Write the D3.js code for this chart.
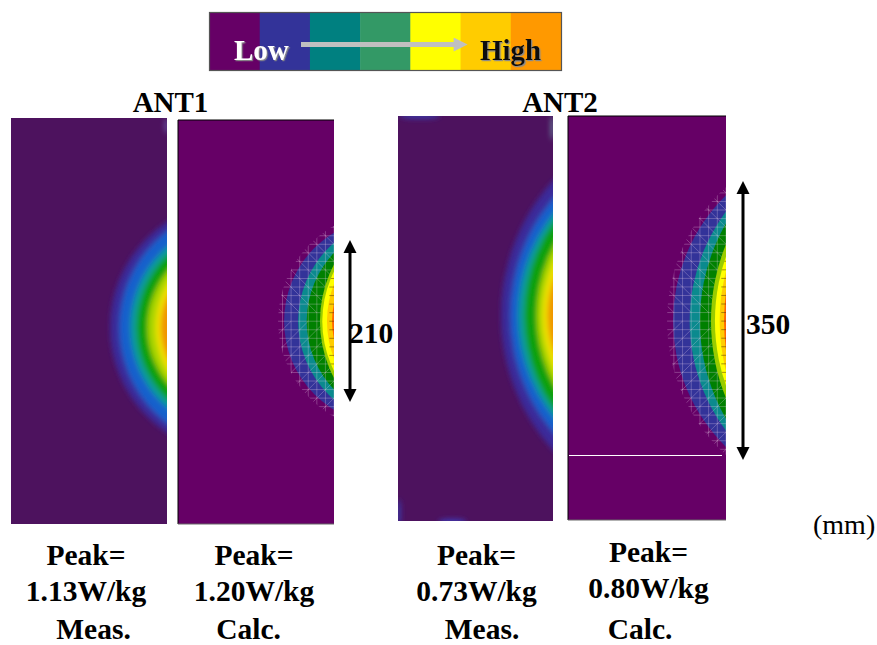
<!DOCTYPE html>
<html>
<head>
<meta charset="utf-8">
<style>
  html, body { margin: 0; background: #fff; }
  svg { display: block; }
  text { font-family: "Liberation Serif", serif; font-weight: bold; fill: #000; }
</style>
</head>
<body>
<div class="container"></div>
<script src="https://cdnjs.cloudflare.com/ajax/libs/d3/7.8.5/d3.min.js"></script>
<script>
// legend
const LEGEND_COLORS = ['#660066', '#333399', '#008080', '#339966', '#ffff00', '#ffcc00', '#ff9900']

// contour levels: depth from the right edge and half chord along that edge, in mm
const MEAS_COLORS = ['#3a2a9a', '#1460cc', '#0a9a9a', '#0ca00c', '#a8d400', '#eee000', '#f09400']
const CALC_COLORS = ['#333399', '#0b8a8e', '#008000', '#99cc00', '#ffff00', '#ffcc00', '#ff6600']

const ant1MeasDepth = [73, 61, 47, 39, 25, 15, 8]
const ant1MeasHalf = [135, 123, 103, 92, 71, 56, 38]
const ant1CalcDepth = [64, 46, 35, 18, 15, 9, 2.5]
const ant1CalcHalf = [114, 101, 88, 73, 64, 48, 23]
const ant2MeasDepth = [67, 55, 45, 37, 21, 14, 7]
const ant2MeasHalf = [173, 150, 130, 119, 87, 68, 43]
const ant2CalcDepth = [67, 46, 33, 19, 14, 8, 2.5]
const ant2CalcHalf = [162, 141, 126, 99, 83, 64, 38]

// faint blotches on the measured maps: x, y in mm, x from the right edge
const ant1Blotches = [
  { x: 1, y: -250, rx: 2, ry: 10, color: '#6a5aa8' },
]
const ant2Blotches = [
  { x: 1, y: -245, rx: 1.5, ry: 16, color: '#70b0b0' },
  { x: 172, y: -260, rx: 26, ry: 4, color: '#3c35a0' },
  { x: 199, y: 250, rx: 3, ry: 18, color: '#3c35a0' },
  { x: 130, y: 261, rx: 18, ry: 4, color: '#4038b0' },
]

const panelNames = ['ANT1', 'ANT2']
const peakLabels = ['Peak=', 'Peak=', 'Peak=', 'Peak=']
const peakValues = ['1.13W/kg', '1.20W/kg', '0.73W/kg', '0.80W/kg']
const methodLabels = ['Meas.', 'Calc.', 'Meas.', 'Calc.']

const PANEL_MM = { WIDTH: 200, HEIGHT: 520 }

const SVG_WIDTH = 877
const SVG_HEIGHT = 645

const panels = [
  { kind: 'meas', left: 11, right: 167, top: 118, bottom: 524, shift: 8, depth: ant1MeasDepth, half: ant1MeasHalf, blotches: ant1Blotches },
  { kind: 'calc', left: 178, right: 334, top: 120, bottom: 524, shift: -1, depth: ant1CalcDepth, half: ant1CalcHalf },
  { kind: 'meas', left: 398, right: 553, top: 116, bottom: 521, shift: -4, depth: ant2MeasDepth, half: ant2MeasHalf, blotches: ant2Blotches },
  { kind: 'calc', left: 568, right: 726, top: 116, bottom: 520, shift: 4, depth: ant2CalcDepth, half: ant2CalcHalf, seam: 176.5 },
]

const svg = d3.select('.container')
  .append('svg')
  .attr('width', SVG_WIDTH)
  .attr('height', SVG_HEIGHT)

const defs = svg.append('defs')

defs.append('filter')
    .attr('id', 'soft')
    .attr('filterUnits', 'userSpaceOnUse')
    .attr('x', 0).attr('y', 0).attr('width', SVG_WIDTH).attr('height', SVG_HEIGHT)
  .append('feGaussianBlur')
    .attr('stdDeviation', 2.8)

defs.append('filter')
    .attr('id', 'soft-small')
    .attr('filterUnits', 'userSpaceOnUse')
    .attr('x', 0).attr('y', 0).attr('width', SVG_WIDTH).attr('height', SVG_HEIGHT)
  .append('feGaussianBlur')
    .attr('stdDeviation', 2.5)

defs.append('filter')
    .attr('id', 'shade')
    .attr('x', '-10%').attr('y', '-10%').attr('width', '120%').attr('height', '120%')
  .append('feDropShadow')
    .attr('dx', 1.2).attr('dy', 1.2).attr('stdDeviation', 0.4)
    .attr('flood-color', '#8a8a8a')

defs.append('marker')
    .attr('id', 'grey-head')
    .attr('viewBox', '0 0 10 10')
    .attr('refX', 1).attr('refY', 5)
    .attr('markerUnits', 'userSpaceOnUse')
    .attr('markerWidth', 15).attr('markerHeight', 14)
    .attr('orient', 'auto')
  .append('path')
    .attr('d', 'M0,0L10,5L0,10Z')
    .attr('fill', '#c0c0c0')

function drawLegend() {
  const x = d3.scaleBand()
    .domain(d3.range(LEGEND_COLORS.length))
    .range([209.5, 561])
  const g = svg.append('g').attr('id', 'legend')

  g.selectAll('rect')
    .data(LEGEND_COLORS)
    .enter()
    .append('rect')
      .attr('x', (d, i) => x(i))
      .attr('y', 13)
      .attr('width', x.bandwidth() + 0.5)
      .attr('height', 57)
      .attr('fill', d => d)

  g.append('rect')
    .attr('x', 209.5).attr('y', 12.5)
    .attr('width', 352).attr('height', 58)
    .attr('fill', 'none')
    .attr('stroke', '#555')
    .attr('stroke-width', 1.2)

  g.append('line')
    .attr('x1', 301).attr('x2', 455)
    .attr('y1', 44.5).attr('y2', 44.5)
    .attr('stroke', '#c0c0c0')
    .attr('stroke-width', 5)
    .attr('marker-end', 'url(#grey-head)')

  g.append('text')
    .text('Low')
    .attr('x', 234).attr('y', 60)
    .attr('font-size', 29)
    .attr('filter', 'url(#shade)')
    .style('fill', '#fff')

  g.append('text')
    .text('High')
    .attr('x', 480).attr('y', 60)
    .attr('font-size', 29)
    .attr('filter', 'url(#shade)')
    .style('fill', '#111')
}

// the contours are lenses: circles through the depth point and both chord ends
function contourCircle(depth, half) {
  const r = (depth * depth + half * half) / (2 * depth)
  return { r, beyond: r - depth }
}

function drawPanel(panel, index) {
  const scaleX = d3.scaleLinear().domain([0, PANEL_MM.WIDTH]).range([panel.right, panel.left])
  const scaleY = d3.scaleLinear().domain([-PANEL_MM.HEIGHT / 2, PANEL_MM.HEIGHT / 2]).range([panel.top, panel.bottom])
  const rx = mm => scaleX(0) - scaleX(mm)
  const ry = mm => scaleY(mm) - scaleY(0)

  const clipId = `panel-clip-${index}`
  defs.append('clipPath')
      .attr('id', clipId)
    .append('rect')
      .attr('x', panel.left).attr('y', panel.top)
      .attr('width', panel.right - panel.left)
      .attr('height', panel.bottom - panel.top)

  const isMeas = panel.kind === 'meas'
  const g = svg.append('g').attr('clip-path', `url(#${clipId})`)

  g.append('rect')
    .attr('x', panel.left).attr('y', panel.top)
    .attr('width', panel.right - panel.left)
    .attr('height', panel.bottom - panel.top)
    .attr('fill', isMeas ? '#4d125e' : '#660066')

  const levels = isMeas ? MEAS_COLORS : CALC_COLORS
  const circles = panel.depth.map((d, i) => ({
    ...contourCircle(d, panel.half[i]),
    color: levels[i],
    level: i,
  }))
  const addContours = (parent, rows) => parent.selectAll('ellipse')
    .data(rows)
    .enter()
    .append('ellipse')
      .attr('cx', d => scaleX(-d.beyond))
      .attr('cy', scaleY(panel.shift))
      .attr('rx', d => rx(d.r))
      .attr('ry', d => ry(d.r))
      .attr('fill', d => d.color)

  if (isMeas) {
    addContours(g.append('g').attr('filter', 'url(#soft)'), circles)
  } else {
    // mesh runs over the blue, teal and green levels only
    addContours(g.append('g'), circles.slice(0, 3))
    drawMesh(g, panel, index, circles[0], scaleX, scaleY, rx, ry)
    addContours(g.append('g'), circles.slice(3))
    drawTicks(g, panel, index, circles[4], scaleX, scaleY, rx, ry)
  }

  if (panel.blotches) {
    g.append('g')
        .attr('filter', 'url(#soft-small)')
      .selectAll('ellipse')
      .data(panel.blotches)
      .enter()
      .append('ellipse')
        .attr('cx', d => scaleX(d.x))
        .attr('cy', d => scaleY(d.y))
        .attr('rx', d => rx(d.rx))
        .attr('ry', d => ry(d.ry))
        .attr('fill', d => d.color)
  }

  if (panel.seam !== undefined) {
    g.append('line')
      .attr('x1', panel.left + 1).attr('x2', panel.right - 4)
      .attr('y1', scaleY(panel.seam)).attr('y2', scaleY(panel.seam))
      .attr('stroke', '#fff')
      .attr('stroke-width', 1)
      .attr('shape-rendering', 'crispEdges')
  }

  // calc panels have a thin black frame on the left and top, grey underneath
  if (!isMeas) {
    svg.append('path')
      .attr('d', `M${panel.left},${panel.bottom}V${panel.top}H${panel.right}`)
      .attr('fill', 'none')
      .attr('stroke', '#000')
      .attr('stroke-width', 1)
    svg.append('line')
      .attr('x1', panel.left).attr('x2', panel.right)
      .attr('y1', panel.bottom).attr('y2', panel.bottom)
      .attr('stroke', '#666')
      .attr('stroke-width', 1)
  }
}

// triangle mesh of the model, it sticks out a little past the blue level
function drawMesh(g, panel, index, outerCircle, scaleX, scaleY, rx, ry) {
  const STEP = 11
  const meshClip = `mesh-clip-${index}`

  defs.append('clipPath')
      .attr('id', meshClip)
    .append('ellipse')
      .attr('cx', scaleX(-outerCircle.beyond))
      .attr('cy', scaleY(panel.shift))
      .attr('rx', rx(outerCircle.r) + 6)
      .attr('ry', ry(outerCircle.r) + 6)

  const columns = d3.range(0, 88, STEP)
  const rows = d3.range(-187, 198, STEP).map(d => d + panel.shift)
  const mesh = g.append('g')
    .attr('clip-path', `url(#${meshClip})`)
    .attr('stroke', '#f2d8f2')
    .attr('stroke-opacity', 0.28)

  mesh.selectAll('line.col')
    .data(columns)
    .enter()
    .append('line')
      .attr('class', 'col')
      .attr('x1', d => scaleX(d)).attr('x2', d => scaleX(d))
      .attr('y1', panel.top).attr('y2', panel.bottom)

  mesh.selectAll('line.row')
    .data(rows)
    .enter()
    .append('line')
      .attr('class', 'row')
      .attr('x1', scaleX(88)).attr('x2', scaleX(0))
      .attr('y1', d => scaleY(d)).attr('y2', d => scaleY(d))

  // a diagonal in every other cell, flipping direction across the middle
  const cells = d3.cross(d3.range(columns.length), d3.range(rows.length))
    .filter(d => (d[0] + d[1]) % 2 === 0)
  mesh.selectAll('line.diag')
    .data(cells)
    .enter()
    .append('line')
      .attr('class', 'diag')
      .attr('x1', d => scaleX(columns[d[0]]))
      .attr('x2', d => scaleX(columns[d[0]] + STEP))
      .attr('y1', d => scaleY(rows[d[1]]))
      .attr('y2', d => scaleY(rows[d[1]] + (rows[d[1]] < panel.shift ? -STEP : STEP)))
}

// short dark ticks inside the hot core
function drawTicks(g, panel, index, coreCircle, scaleX, scaleY, rx, ry) {
  const tipClip = `tip-clip-${index}`
  defs.append('clipPath')
      .attr('id', tipClip)
    .append('ellipse')
      .attr('cx', scaleX(-coreCircle.beyond))
      .attr('cy', scaleY(panel.shift))
      .attr('rx', rx(coreCircle.r))
      .attr('ry', ry(coreCircle.r))

  g.append('g')
      .attr('clip-path', `url(#${tipClip})`)
    .selectAll('line')
    .data(d3.range(-88, 99, 11).map(d => d + panel.shift))
    .enter()
    .append('line')
      .attr('x1', scaleX(6)).attr('x2', scaleX(0))
      .attr('y1', d => scaleY(d)).attr('y2', d => scaleY(d))
      .attr('stroke', '#553300')
      .attr('stroke-opacity', 0.5)
}

function drawSpan(x, y1, y2) {
  const HEAD = 13
  const g = svg.append('g')
  g.append('line')
    .attr('x1', x).attr('x2', x)
    .attr('y1', y1 + HEAD - 1).attr('y2', y2 - HEAD + 1)
    .attr('stroke', '#000')
    .attr('stroke-width', 3)
  g.append('path')
    .attr('d', `M${x},${y1}l${-HEAD / 2},${HEAD}h${HEAD}Z`)
  g.append('path')
    .attr('d', `M${x},${y2}l${-HEAD / 2},${-HEAD}h${HEAD}Z`)
}

function drawLabels() {
  const titleX = [170.5, 560]
  svg.append('g').selectAll('text')
    .data(panelNames)
    .enter()
    .append('text')
      .text(d => d)
      .attr('x', (d, i) => titleX[i])
      .attr('y', 112)
      .attr('text-anchor', 'middle')
      .attr('font-size', 29)

  const columnX = [86, 254, 476.5, 648.5]
  const peakY = [565, 565, 565, 562]
  const valueY = [601, 601, 601, 598]
  const methodY = [638.5, 638.5, 638.5, 638.5]
  const methodX = [93.5, 248.5, 482, 640]

  const rowsOf = [
    { labels: peakLabels, x: columnX, y: peakY },
    { labels: peakValues, x: columnX, y: valueY },
    { labels: methodLabels, x: methodX, y: methodY },
  ]
  rowsOf.forEach(row => {
    svg.append('g').selectAll('text')
      .data(row.labels)
      .enter()
      .append('text')
        .text(d => d)
        .attr('x', (d, i) => row.x[i])
        .attr('y', (d, i) => row.y[i])
        .attr('text-anchor', 'middle')
        .attr('font-size', 29.5)
  })

  svg.append('text').text('210')
    .attr('x', 349).attr('y', 343)
    .attr('font-size', 29.5)
  svg.append('text').text('350')
    .attr('x', 746).attr('y', 334)
    .attr('font-size', 29.5)
  svg.append('text').text('(mm)')
    .attr('x', 813).attr('y', 534)
    .attr('font-size', 28)
    .style('font-weight', 'normal')
}

drawLegend()
panels.forEach(drawPanel)
drawSpan(350, 240, 402)
drawSpan(743, 181, 460)
drawLabels()
</script>
</body>
</html>
